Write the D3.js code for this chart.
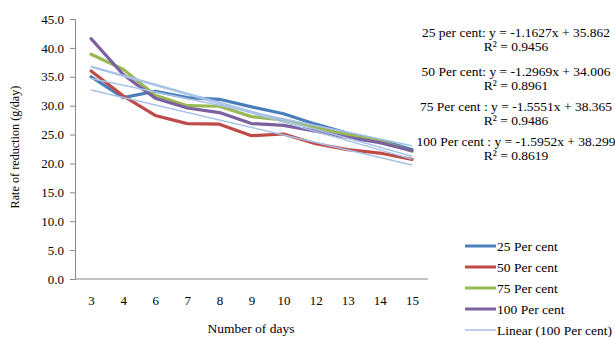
<!DOCTYPE html>
<html>
<head>
<meta charset="utf-8">
<script src="https://cdn.jsdelivr.net/npm/d3@7/dist/d3.min.js"></script>
<style>
  html, body { margin: 0; padding: 0; background: #fff; }
</style>
</head>
<body>
<svg id="chart" width="615" height="337"></svg>
<script>
// Days on which reduction was measured
const days = ["3", "4", "6", "7", "8", "9", "10", "12", "13", "14", "15"];

// Rate of reduction (g/day) per treatment
const series25  = [35.0, 31.4, 32.5, 31.4, 31.1, 29.8, 28.6, 26.8, 25.2, 24.0, 22.4];
const series50  = [36.0, 31.7, 28.3, 26.9, 26.8, 24.8, 25.1, 23.4, 22.4, 21.8, 20.7];
const series75  = [38.9, 36.3, 31.8, 30.0, 29.9, 28.1, 27.5, 26.2, 25.0, 23.9, 22.1];
const series100 = [41.6, 35.4, 31.3, 29.6, 28.8, 26.9, 26.6, 25.6, 24.5, 23.6, 22.2];

const seriesNames  = ["25 Per cent", "50 Per cent", "75 Per cent", "100 Per cent"];
const seriesColors = ["#4a7ebb", "#be4b48", "#98b954", "#7d60a0"];

// Linear trendline coefficients (x = point index starting at 1)
const trendSlopes     = [-1.1627, -1.2969, -1.5551, -1.5952];
const trendIntercepts = [35.862, 34.006, 38.365, 38.299];
const equationLines = [
  ["25 per cent: y = -1.1627x + 35.862", "R\u00b2 = 0.9456"],
  ["50 Per cent: y = -1.2969x + 34.006", "R\u00b2 = 0.8961"],
  ["75 Per cent : y = -1.5551x + 38.365", "R\u00b2 = 0.9486"],
  ["100 Per cent : y = -1.5952x + 38.299", "R\u00b2 = 0.8619"]
];
const yTicks = [0, 5, 10, 15, 20, 25, 30, 35, 40, 45];

const allSeries = [series25, series50, series75, series100];
const trendColor = "#a7c2e8";
const FONT = "'Liberation Serif', 'Times New Roman', serif";

const svg = d3.select("#chart");
const plot = { left: 75, right: 428, top: 19, bottom: 279 };

const x = d3.scalePoint().domain(days).range([plot.left, plot.right]).padding(0.5);
const y = d3.scaleLinear().domain([0, 45]).range([plot.bottom, plot.top]);

// Y axis
const yAxis = svg.append("g")
  .attr("transform", `translate(${plot.left},0)`)
  .call(d3.axisLeft(y).tickValues(yTicks).tickFormat(d3.format(".1f")).tickSize(5).tickPadding(6));
yAxis.select(".domain").attr("stroke", "#888");
yAxis.selectAll(".tick line").attr("stroke", "#888");
yAxis.selectAll("text").style("font-family", FONT).style("font-size", "13px").attr("fill", "#000");

// X axis
const xAxis = svg.append("g")
  .attr("transform", `translate(0,${plot.bottom})`)
  .call(d3.axisBottom(x).tickSize(0).tickPadding(17));
xAxis.select(".domain").attr("stroke", "#888").attr("d", `M${plot.left},0H${plot.right}`);
xAxis.selectAll("text").style("font-family", FONT).style("font-size", "13px").attr("fill", "#000");

// Axis titles
svg.append("text")
  .attr("transform", `translate(19,147) rotate(-90)`)
  .attr("text-anchor", "middle")
  .style("font-family", FONT).style("font-size", "12.2px")
  .text("Rate of reduction (g/day)");
svg.append("text")
  .attr("x", 251).attr("y", 333)
  .attr("text-anchor", "middle")
  .style("font-family", FONT).style("font-size", "13.5px")
  .text("Number of days");

// Data lines
const line = d3.line()
  .x((d, i) => x(days[i]))
  .y(d => y(d));

allSeries.forEach((s, k) => {
  svg.append("path")
    .datum(s)
    .attr("d", line)
    .attr("fill", "none")
    .attr("stroke", seriesColors[k])
    .attr("stroke-width", 3.2)
    .attr("stroke-linejoin", "round")
    .attr("stroke-linecap", "round");
});

// Trendlines
trendSlopes.forEach((m, k) => {
  const b = trendIntercepts[k];
  const n = days.length;
  svg.append("line")
    .attr("x1", x(days[0])).attr("y1", y(m * 1 + b))
    .attr("x2", x(days[n - 1])).attr("y2", y(m * n + b))
    .attr("stroke", trendColor)
    .attr("stroke-width", 1.5);
});

// Trendline equations
const eqCenter = 516;
const eqRows = [[32, 46], [71, 85], [106, 120], [141, 155]];
equationLines.forEach((pair, k) => {
  pair.forEach((t, j) => {
    svg.append("text")
      .attr("x", eqCenter).attr("y", eqRows[k][j] + 4.5)
      .attr("text-anchor", "middle")
      .style("font-family", FONT).style("font-size", "13.5px")
      .text(t);
  });
});

// Legend
const legendNames = seriesNames.concat(["Linear (100 Per cent)"]);
const legendColors = seriesColors.concat([trendColor]);
legendNames.forEach((name, i) => {
  const ly = 246 + i * 21;
  svg.append("line")
    .attr("x1", 465).attr("x2", 496)
    .attr("y1", ly).attr("y2", ly)
    .attr("stroke", legendColors[i])
    .attr("stroke-width", i < 4 ? 3 : 1.5);
  svg.append("text")
    .attr("x", 497).attr("y", ly + 4.5)
    .style("font-family", FONT).style("font-size", "13.5px")
    .text(name);
});
</script>
</body>
</html>
